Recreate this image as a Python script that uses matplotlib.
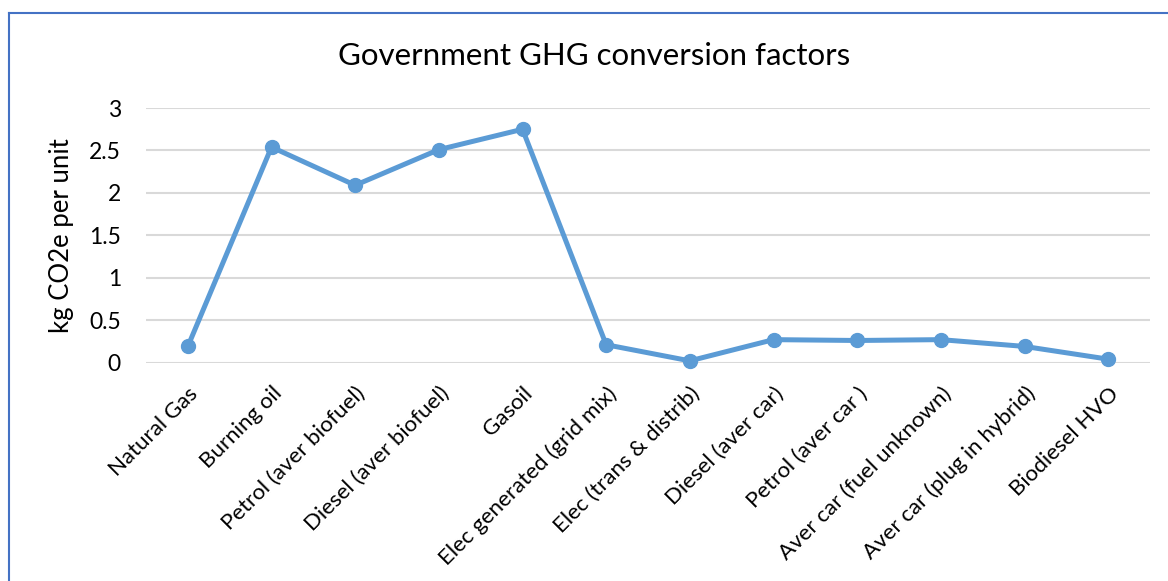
import matplotlib.pyplot as plt
from matplotlib.lines import Line2D

categories = ["Natural Gas", "Burning oil", "Petrol (aver biofuel)", "Diesel (aver biofuel)",
              "Gasoil", "Elec generated (grid mix)", "Elec (trans & distrib)", "Diesel (aver car)",
              "Petrol (aver car )", "Aver car (fuel unknown)", "Aver car (plug in hybrid)",
              "Biodiesel HVO"]
factors = [0.19, 2.54, 2.09, 2.51, 2.75, 0.21, 0.02, 0.27, 0.26, 0.27, 0.19, 0.04]
y_ticks = [0, 0.5, 1, 1.5, 2, 2.5, 3]
y_tick_labels = ["0", "0.5", "1", "1.5", "2", "2.5", "3"]

plt.rcParams['font.family'] = ['Lato', 'DejaVu Sans']

fig = plt.figure(figsize=(11.68, 5.81), dpi=100)
ax = fig.add_axes([0.125, 0.376, 0.8596, 0.438])

x = list(range(len(categories)))
ax.plot(x, factors, color="#5B9BD5", linewidth=3.6, marker="o", markersize=10,
        clip_on=False, zorder=3)

ax.set_xlim(-0.5, len(categories) - 0.5)
ax.set_ylim(0, 3)
ax.set_yticks(y_ticks)
ax.set_yticklabels(y_tick_labels, fontsize=16.5)
ax.set_xticks(x)
ax.set_xticklabels(categories, fontsize=16, rotation=45, ha="right", va="top",
                   rotation_mode="anchor")
ax.tick_params(axis="y", length=0, pad=18)
ax.tick_params(axis="x", length=0, pad=15)
ax.grid(axis="y", color="#D9D9D9", linewidth=1.5)
ax.set_axisbelow(True)
for s in ax.spines.values():
    s.set_visible(False)

ax.set_ylabel("kg CO2e per unit", fontsize=18.5, labelpad=11)
fig.text(0.509, 0.904, "Government GHG conversion factors", fontsize=22.5,
         ha="center", va="center")

# chart border (only left and top edges fall inside the picture)
fig.add_artist(Line2D([0.0077, 0.0077], [0.0, 0.9776], color="#4472C4", linewidth=1.5))
fig.add_artist(Line2D([0.0077, 1.0], [0.9776, 0.9776], color="#4472C4", linewidth=1.5))

fig.savefig("out.png", dpi=100)
